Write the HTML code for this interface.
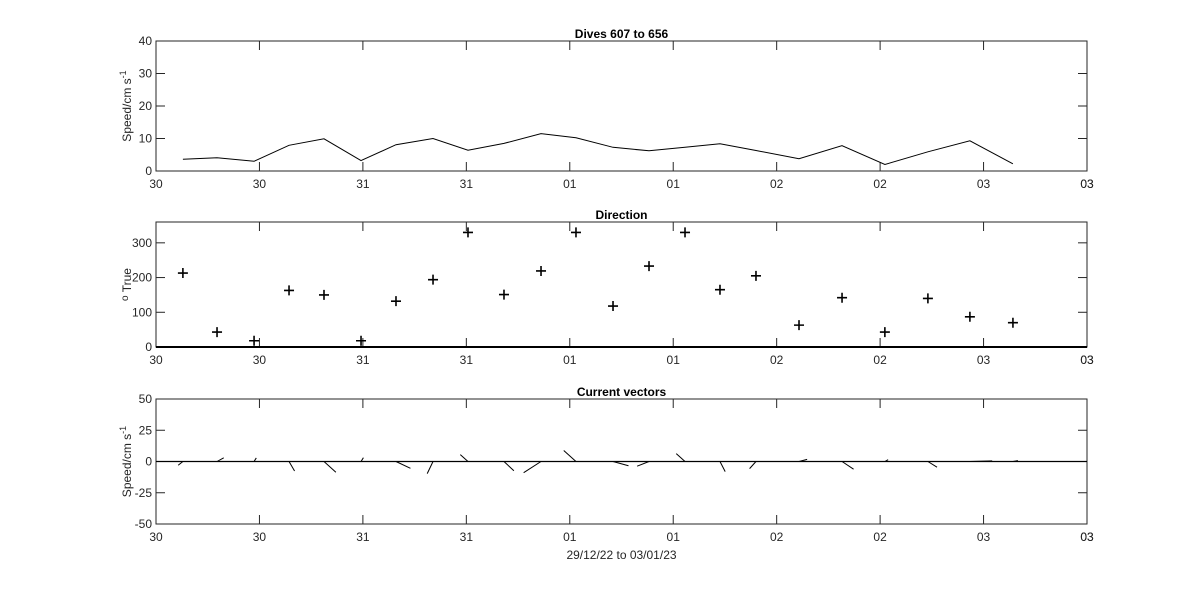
<!DOCTYPE html>
<html><head><meta charset="utf-8"><style>
body{margin:0;background:#fff;}
svg{display:block;font-family:"Liberation Sans",sans-serif;}
</style></head><body>
<svg id="c" width="1200" height="589" viewBox="0 0 1200 589"></svg>
<script>
const times=[0.130,0.295,0.474,0.643,0.812,0.991,1.160,1.339,1.508,1.682,1.861,2.030,2.209,2.383,2.557,2.726,2.900,3.108,3.316,3.523,3.731,3.934,4.142];
const speeds=[3.6,4.1,3.0,7.9,9.9,3.2,8.1,10.0,6.4,8.5,11.5,10.2,7.3,6.2,7.3,8.4,6.3,3.8,7.8,2.0,5.9,9.3,2.2];
const directions=[213,43,18,163,150,18,132,194,330,151,219,330,118,233,330,165,205,63,142,43,140,87,70];
const xTickLabels=["30","30","31","31","01","01","02","02","03","03"];
const speedTicks=[0,10,20,30,40];
const dirTicks=[0,100,200,300];
const vecTicks=[-50,-25,0,25,50];

const NS="http://www.w3.org/2000/svg";
const svg=document.getElementById('c');
const X0=156,X1=1087,TMAX=4.5;
const xs=t=>X0+(t/TMAX)*(X1-X0);
function el(tag,attrs,parent){const e=document.createElementNS(NS,tag);for(const k in attrs)e.setAttribute(k,attrs[k]);(parent||svg).appendChild(e);return e;}
function txt(s,attrs,parent){const e=el('text',attrs,parent);e.textContent=s;return e;}

function panel(name,top,bot,ymin,ymax,yticks,title,ylabel){
  const g=el('g',{});
  
  
  const ys=v=>bot-(v-ymin)/(ymax-ymin)*(bot-top);
  const box=el('rect',{x:X0,y:top,width:X1-X0,height:bot-top,fill:'none',stroke:'#262626','stroke-width':1},g);
  
  
  xTickLabels.forEach((l,i)=>{
    const x=X0+i*(X1-X0)/9;
    el('line',{x1:x,y1:bot,x2:x,y2:bot-9,stroke:'#262626'},g);
    el('line',{x1:x,y1:top,x2:x,y2:top+9,stroke:'#262626'},g);
    const t=txt(l,{x:x,y:bot+17,'font-size':12,'text-anchor':'middle',fill:'#262626'},g);
    
    
  });
  txt('03',{x:X1,y:bot+17,'font-size':12,'text-anchor':'middle',fill:'#262626'},g);
  yticks.forEach(v=>{
    const y=ys(v);
    el('line',{x1:X0,y1:y,x2:X0+9,y2:y,stroke:'#262626'},g);
    el('line',{x1:X1,y1:y,x2:X1-9,y2:y,stroke:'#262626'},g);
    const t=txt(String(v),{x:X0-4,y:y+4,'font-size':12,'text-anchor':'end',fill:'#262626'},g);
    
    
  });
  const tt=txt(title,{x:(X0+X1)/2,y:top-3,'font-size':12,'font-weight':'bold','text-anchor':'middle',fill:'#000'},g);
  
  
  const yl=el('text',{transform:`translate(${X0-25},${(top+bot)/2}) rotate(-90)`,'font-size':12,'text-anchor':'middle',fill:'#262626'},g);
  yl.innerHTML=ylabel;
  
  
  return {g,ys};
}

// Panel 1
const p1=panel('speed-panel',41,171,0,40,speedTicks,'Dives 607 to 656','Speed/cm s<tspan dy="-5" font-size="9">-1</tspan>');
const pts=times.map((t,i)=>xs(t).toFixed(1)+','+p1.ys(speeds[i]).toFixed(1)).join(' ');
const pl=el('polyline',{points:pts,fill:'none',stroke:'#000','stroke-width':1},p1.g);



// Panel 2
const p2=panel('direction-panel',222,347,0,360,dirTicks,'Direction','<tspan font-size="10" dy="-3">o</tspan><tspan dy="3"> True</tspan>');
el('line',{x1:X0,y1:347,x2:X1,y2:347,stroke:'#000','stroke-width':2},p2.g);
times.forEach((t,i)=>{
  const x=xs(t),y=p2.ys(directions[i]);
  const m=el('path',{d:`M${x-5},${y}H${x+5}M${x},${y-5}V${y+5}`,stroke:'#000','stroke-width':1.6},p2.g);
  
  
});

// Panel 3
const p3=panel('vectors-panel',399,524,-50,50,vecTicks,'Current vectors','Speed/cm s<tspan dy="-5" font-size="9">-1</tspan>');
const zy=p3.ys(0);
el('line',{x1:X0,y1:zy,x2:X1,y2:zy,stroke:'#000','stroke-width':1.2},p3.g);
const UX=2.4;
times.forEach((t,i)=>{
  const r=directions[i]*Math.PI/180;
  const u=speeds[i]*Math.sin(r),v=speeds[i]*Math.cos(r);
  const x=xs(t);
  const l=el('line',{x1:x,y1:zy,x2:x+u*UX,y2:p3.ys(v),stroke:'#000','stroke-width':1},p3.g);
  
  
});
const xl=txt('29/12/22 to 03/01/23',{x:(X0+X1)/2,y:559,'font-size':12,'text-anchor':'middle',fill:'#262626'});


</script>
</body></html>
